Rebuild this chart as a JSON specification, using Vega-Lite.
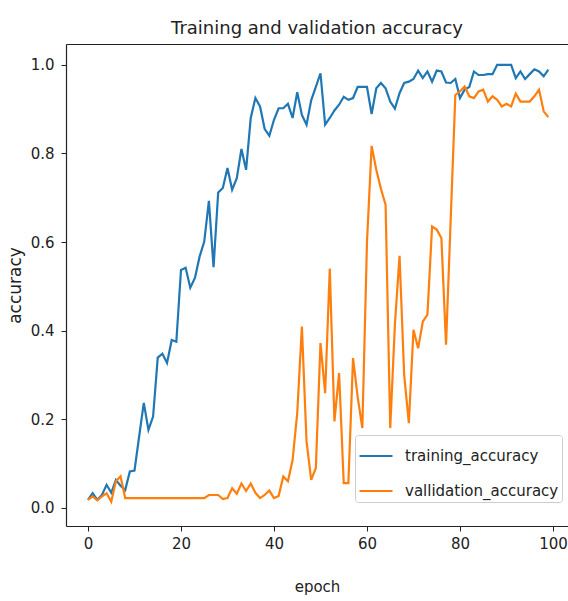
{
  "$schema": "https://vega.github.io/schema/vega-lite/v6.json",
  "autosize": {"type": "none"},
  "padding": {"left": 66, "top": 44, "right": 0, "bottom": 75},
  "width": 502,
  "height": 482,
  "background": "white",
  "title": {
    "text": "Training and validation accuracy",
    "font": "DejaVu Sans",
    "fontSize": 18,
    "fontWeight": "normal",
    "color": "#222222",
    "anchor": "middle",
    "offset": 6
  },
  "data": {
    "values": [
      {"epoch": 0, "training_accuracy": 0.018, "vallidation_accuracy": 0.018},
      {"epoch": 1, "training_accuracy": 0.033, "vallidation_accuracy": 0.026},
      {"epoch": 2, "training_accuracy": 0.018, "vallidation_accuracy": 0.017},
      {"epoch": 3, "training_accuracy": 0.029, "vallidation_accuracy": 0.026},
      {"epoch": 4, "training_accuracy": 0.052, "vallidation_accuracy": 0.033},
      {"epoch": 5, "training_accuracy": 0.034, "vallidation_accuracy": 0.014},
      {"epoch": 6, "training_accuracy": 0.063, "vallidation_accuracy": 0.06},
      {"epoch": 7, "training_accuracy": 0.05, "vallidation_accuracy": 0.071},
      {"epoch": 8, "training_accuracy": 0.04, "vallidation_accuracy": 0.022},
      {"epoch": 9, "training_accuracy": 0.082, "vallidation_accuracy": 0.022},
      {"epoch": 10, "training_accuracy": 0.084, "vallidation_accuracy": 0.022},
      {"epoch": 11, "training_accuracy": 0.161, "vallidation_accuracy": 0.022},
      {"epoch": 12, "training_accuracy": 0.237, "vallidation_accuracy": 0.022},
      {"epoch": 13, "training_accuracy": 0.176, "vallidation_accuracy": 0.022},
      {"epoch": 14, "training_accuracy": 0.206, "vallidation_accuracy": 0.022},
      {"epoch": 15, "training_accuracy": 0.339, "vallidation_accuracy": 0.022},
      {"epoch": 16, "training_accuracy": 0.348, "vallidation_accuracy": 0.022},
      {"epoch": 17, "training_accuracy": 0.327, "vallidation_accuracy": 0.022},
      {"epoch": 18, "training_accuracy": 0.379, "vallidation_accuracy": 0.022},
      {"epoch": 19, "training_accuracy": 0.375, "vallidation_accuracy": 0.022},
      {"epoch": 20, "training_accuracy": 0.537, "vallidation_accuracy": 0.022},
      {"epoch": 21, "training_accuracy": 0.542, "vallidation_accuracy": 0.022},
      {"epoch": 22, "training_accuracy": 0.497, "vallidation_accuracy": 0.022},
      {"epoch": 23, "training_accuracy": 0.519, "vallidation_accuracy": 0.022},
      {"epoch": 24, "training_accuracy": 0.567, "vallidation_accuracy": 0.022},
      {"epoch": 25, "training_accuracy": 0.601, "vallidation_accuracy": 0.022},
      {"epoch": 26, "training_accuracy": 0.693, "vallidation_accuracy": 0.029},
      {"epoch": 27, "training_accuracy": 0.543, "vallidation_accuracy": 0.029},
      {"epoch": 28, "training_accuracy": 0.712, "vallidation_accuracy": 0.029},
      {"epoch": 29, "training_accuracy": 0.722, "vallidation_accuracy": 0.02},
      {"epoch": 30, "training_accuracy": 0.767, "vallidation_accuracy": 0.022},
      {"epoch": 31, "training_accuracy": 0.718, "vallidation_accuracy": 0.044},
      {"epoch": 32, "training_accuracy": 0.744, "vallidation_accuracy": 0.032},
      {"epoch": 33, "training_accuracy": 0.81, "vallidation_accuracy": 0.055},
      {"epoch": 34, "training_accuracy": 0.763, "vallidation_accuracy": 0.038},
      {"epoch": 35, "training_accuracy": 0.88, "vallidation_accuracy": 0.055},
      {"epoch": 36, "training_accuracy": 0.925, "vallidation_accuracy": 0.034},
      {"epoch": 37, "training_accuracy": 0.906, "vallidation_accuracy": 0.022},
      {"epoch": 38, "training_accuracy": 0.855, "vallidation_accuracy": 0.029},
      {"epoch": 39, "training_accuracy": 0.84, "vallidation_accuracy": 0.039},
      {"epoch": 40, "training_accuracy": 0.876, "vallidation_accuracy": 0.022},
      {"epoch": 41, "training_accuracy": 0.902, "vallidation_accuracy": 0.027},
      {"epoch": 42, "training_accuracy": 0.902, "vallidation_accuracy": 0.071},
      {"epoch": 43, "training_accuracy": 0.912, "vallidation_accuracy": 0.06},
      {"epoch": 44, "training_accuracy": 0.88, "vallidation_accuracy": 0.108},
      {"epoch": 45, "training_accuracy": 0.938, "vallidation_accuracy": 0.214},
      {"epoch": 46, "training_accuracy": 0.887, "vallidation_accuracy": 0.409},
      {"epoch": 47, "training_accuracy": 0.865, "vallidation_accuracy": 0.15},
      {"epoch": 48, "training_accuracy": 0.92, "vallidation_accuracy": 0.063},
      {"epoch": 49, "training_accuracy": 0.95, "vallidation_accuracy": 0.09},
      {"epoch": 50, "training_accuracy": 0.981, "vallidation_accuracy": 0.372},
      {"epoch": 51, "training_accuracy": 0.865, "vallidation_accuracy": 0.259},
      {"epoch": 52, "training_accuracy": 0.88, "vallidation_accuracy": 0.54},
      {"epoch": 53, "training_accuracy": 0.897, "vallidation_accuracy": 0.195},
      {"epoch": 54, "training_accuracy": 0.91, "vallidation_accuracy": 0.304},
      {"epoch": 55, "training_accuracy": 0.928, "vallidation_accuracy": 0.056},
      {"epoch": 56, "training_accuracy": 0.921, "vallidation_accuracy": 0.056},
      {"epoch": 57, "training_accuracy": 0.925, "vallidation_accuracy": 0.338},
      {"epoch": 58, "training_accuracy": 0.95, "vallidation_accuracy": 0.25},
      {"epoch": 59, "training_accuracy": 0.95, "vallidation_accuracy": 0.18},
      {"epoch": 60, "training_accuracy": 0.95, "vallidation_accuracy": 0.6},
      {"epoch": 61, "training_accuracy": 0.889, "vallidation_accuracy": 0.817},
      {"epoch": 62, "training_accuracy": 0.947, "vallidation_accuracy": 0.763},
      {"epoch": 63, "training_accuracy": 0.959, "vallidation_accuracy": 0.72},
      {"epoch": 64, "training_accuracy": 0.947, "vallidation_accuracy": 0.684},
      {"epoch": 65, "training_accuracy": 0.917, "vallidation_accuracy": 0.18},
      {"epoch": 66, "training_accuracy": 0.901, "vallidation_accuracy": 0.413},
      {"epoch": 67, "training_accuracy": 0.936, "vallidation_accuracy": 0.569},
      {"epoch": 68, "training_accuracy": 0.959, "vallidation_accuracy": 0.3},
      {"epoch": 69, "training_accuracy": 0.962, "vallidation_accuracy": 0.191},
      {"epoch": 70, "training_accuracy": 0.968, "vallidation_accuracy": 0.402},
      {"epoch": 71, "training_accuracy": 0.987, "vallidation_accuracy": 0.36},
      {"epoch": 72, "training_accuracy": 0.97, "vallidation_accuracy": 0.42},
      {"epoch": 73, "training_accuracy": 0.985, "vallidation_accuracy": 0.436},
      {"epoch": 74, "training_accuracy": 0.962, "vallidation_accuracy": 0.635},
      {"epoch": 75, "training_accuracy": 0.987, "vallidation_accuracy": 0.628},
      {"epoch": 76, "training_accuracy": 0.985, "vallidation_accuracy": 0.609},
      {"epoch": 77, "training_accuracy": 0.96, "vallidation_accuracy": 0.368},
      {"epoch": 78, "training_accuracy": 0.959, "vallidation_accuracy": 0.65},
      {"epoch": 79, "training_accuracy": 0.968, "vallidation_accuracy": 0.932},
      {"epoch": 80, "training_accuracy": 0.925, "vallidation_accuracy": 0.94},
      {"epoch": 81, "training_accuracy": 0.944, "vallidation_accuracy": 0.951},
      {"epoch": 82, "training_accuracy": 0.95, "vallidation_accuracy": 0.929},
      {"epoch": 83, "training_accuracy": 0.985, "vallidation_accuracy": 0.925},
      {"epoch": 84, "training_accuracy": 0.977, "vallidation_accuracy": 0.94},
      {"epoch": 85, "training_accuracy": 0.977, "vallidation_accuracy": 0.944},
      {"epoch": 86, "training_accuracy": 0.979, "vallidation_accuracy": 0.917},
      {"epoch": 87, "training_accuracy": 0.979, "vallidation_accuracy": 0.929},
      {"epoch": 88, "training_accuracy": 1.0, "vallidation_accuracy": 0.921},
      {"epoch": 89, "training_accuracy": 1.0, "vallidation_accuracy": 0.906},
      {"epoch": 90, "training_accuracy": 1.0, "vallidation_accuracy": 0.912},
      {"epoch": 91, "training_accuracy": 1.0, "vallidation_accuracy": 0.906},
      {"epoch": 92, "training_accuracy": 0.97, "vallidation_accuracy": 0.935},
      {"epoch": 93, "training_accuracy": 0.985, "vallidation_accuracy": 0.917},
      {"epoch": 94, "training_accuracy": 0.968, "vallidation_accuracy": 0.917},
      {"epoch": 95, "training_accuracy": 0.979, "vallidation_accuracy": 0.917},
      {"epoch": 96, "training_accuracy": 0.99, "vallidation_accuracy": 0.929},
      {"epoch": 97, "training_accuracy": 0.985, "vallidation_accuracy": 0.944},
      {"epoch": 98, "training_accuracy": 0.974, "vallidation_accuracy": 0.895},
      {"epoch": 99, "training_accuracy": 0.989, "vallidation_accuracy": 0.882}
    ]
  },
  "transform": [
    {"fold": ["training_accuracy", "vallidation_accuracy"], "as": ["series", "accuracy"]}
  ],
  "layer": [
    {
      "mark": {"type": "line", "strokeWidth": 2.2},
      "encoding": {
        "x": {
          "field": "epoch",
          "type": "quantitative",
          "scale": {"domain": [-4.73, 103.23], "nice": false, "zero": false},
          "axis": {
            "values": [0, 20, 40, 60, 80, 100],
            "title": "epoch",
            "labelPadding": 5,
            "titlePadding": 28
          }
        },
        "y": {
          "field": "accuracy",
          "type": "quantitative",
          "scale": {"domain": [-0.041, 1.047], "nice": false, "zero": false},
          "axis": {
            "values": [0, 0.2, 0.4, 0.6, 0.8, 1.0],
            "format": ".1f",
            "title": "accuracy",
            "labelPadding": 7,
            "titlePadding": 6
          }
        },
        "color": {
          "field": "series",
          "type": "nominal",
          "scale": {
            "domain": ["training_accuracy", "vallidation_accuracy"],
            "range": ["#1f77b4", "#ff7f0e"]
          },
          "legend": {
            "orient": "none",
            "legendX": 289,
            "legendY": 391,
            "title": null,
            "symbolType": "stroke",
            "symbolSize": 1089,
            "symbolStrokeWidth": 2.2,
            "labelOffset": 11,
            "labelFont": "DejaVu Sans",
            "labelFontSize": 15,
            "labelColor": "#222222",
            "padding": 3,
            "rowPadding": 9,
            "strokeColor": "#cccccc",
            "fillColor": "white",
            "cornerRadius": 3
          }
        }
      }
    },
    {
      "mark": {"type": "rule", "opacity": 0},
      "encoding": {
        "x": {
          "field": "epoch",
          "type": "quantitative",
          "axis": {
            "orient": "top",
            "labels": false,
            "ticks": false,
            "title": null,
            "grid": false
          }
        }
      }
    }
  ],
  "resolve": {"axis": {"x": "independent"}},
  "config": {
    "view": {"stroke": null},
    "axis": {
      "grid": false,
      "domainColor": "#222222",
      "domainWidth": 1.2,
      "tickColor": "#222222",
      "tickSize": 5,
      "labelFont": "DejaVu Sans",
      "labelFontSize": 15,
      "labelColor": "#222222",
      "labelFlush": false,
      "titleFont": "DejaVu Sans",
      "titleFontSize": 15,
      "titleFontWeight": "normal",
      "titleColor": "#222222"
    },
    "axisY": {"titleFontSize": 17}
  }
}
